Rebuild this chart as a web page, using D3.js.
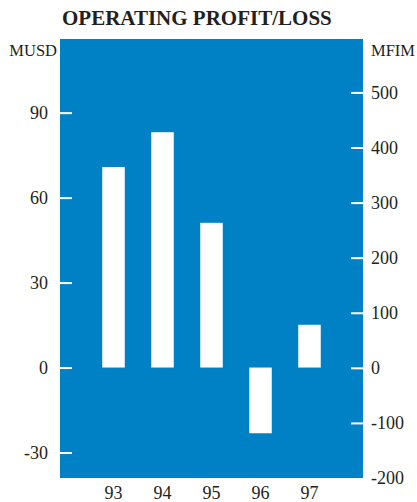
<!DOCTYPE html>
<html>
<head>
<meta charset="utf-8">
<script src="https://cdn.jsdelivr.net/npm/d3@7"></script>
<style>
  html, body { margin: 0; padding: 0; background: #ffffff; }
  svg { display: block; }
  text { font-family: "Liberation Serif", "DejaVu Serif", serif; fill: #231f20; }
</style>
</head>
<body>
<script>
// Operating profit/loss by year, in million USD
const years = ["93", "94", "95", "96", "97"];
const profitMUSD = [70.8, 83.1, 51.1, -23.2, 15.1];

// Axis ticks: USD on the left, FIM on the right
const usdTicks = [-30, 0, 30, 60, 90];
const fimTicks = [-200, -100, 0, 100, 200, 300, 400, 500];
const usdDomain = [-39, 116];
const fimDomain = [-200, 597];

const W = 417, H = 502;
const plot = { left: 60, right: 363, top: 39, bottom: 478 };
const blue = "#0081c6";

const svg = d3.select("body").append("svg")
  .attr("width", W).attr("height", H);

// Title
svg.append("text")
  .attr("x", 62).attr("y", 25)
  .attr("font-size", 21).attr("font-weight", "bold")
  .text("OPERATING PROFIT/LOSS");

// Unit labels
svg.append("text")
  .attr("x", 57).attr("y", 56).attr("text-anchor", "end")
  .attr("font-size", 16.5).text("MUSD");
svg.append("text")
  .attr("x", 371).attr("y", 56)
  .attr("font-size", 16.5).text("MFIM");

// Plot background
svg.append("rect")
  .attr("x", plot.left).attr("y", plot.top)
  .attr("width", plot.right - plot.left)
  .attr("height", plot.bottom - plot.top)
  .attr("fill", blue);

const x = d3.scaleBand()
  .domain(years)
  .range([89, 334])
  .paddingInner(0.54)
  .paddingOuter(0.27);

const yUSD = d3.scaleLinear().domain(usdDomain).range([plot.bottom, plot.top]);
const yFIM = d3.scaleLinear().domain(fimDomain).range([plot.bottom, plot.top]);

// Bars
svg.append("g").selectAll("rect")
  .data(years.map((yr, i) => ({ yr, v: profitMUSD[i] })))
  .join("rect")
  .attr("x", d => x(d.yr))
  .attr("width", x.bandwidth())
  .attr("y", d => yUSD(Math.max(0, d.v)))
  .attr("height", d => Math.abs(yUSD(d.v) - yUSD(0)))
  .attr("fill", "#ffffff");

// Plain hyphen for negative numbers
const plainNum = d => String(d);

function styleAxis(g) {
  g.select(".domain").remove();
  g.selectAll(".tick line").attr("stroke", "#ffffff").attr("stroke-width", 2);
  g.selectAll(".tick text")
    .attr("fill", "#231f20")
    .attr("font-size", 18)
    .attr("font-family", "Liberation Serif, serif");
}

// Left axis (MUSD) with ticks drawn inward
svg.append("g")
  .attr("transform", `translate(${plot.left},0)`)
  .call(d3.axisLeft(yUSD).tickValues(usdTicks).tickSize(-12).tickPadding(12)
    .tickFormat(plainNum))
  .call(styleAxis);

// Right axis (MFIM) with ticks drawn inward
svg.append("g")
  .attr("transform", `translate(${plot.right},0)`)
  .call(d3.axisRight(yFIM).tickValues(fimTicks).tickSize(-12).tickPadding(8)
    .tickFormat(plainNum))
  .call(styleAxis)
  .call(g => g.selectAll(".tick").filter(d => d <= fimDomain[0]).select("line").remove());

// Year labels
svg.append("g")
  .attr("transform", `translate(0,${plot.bottom})`)
  .call(d3.axisBottom(x).tickSize(0).tickPadding(8))
  .call(styleAxis);
</script>
</body>
</html>
